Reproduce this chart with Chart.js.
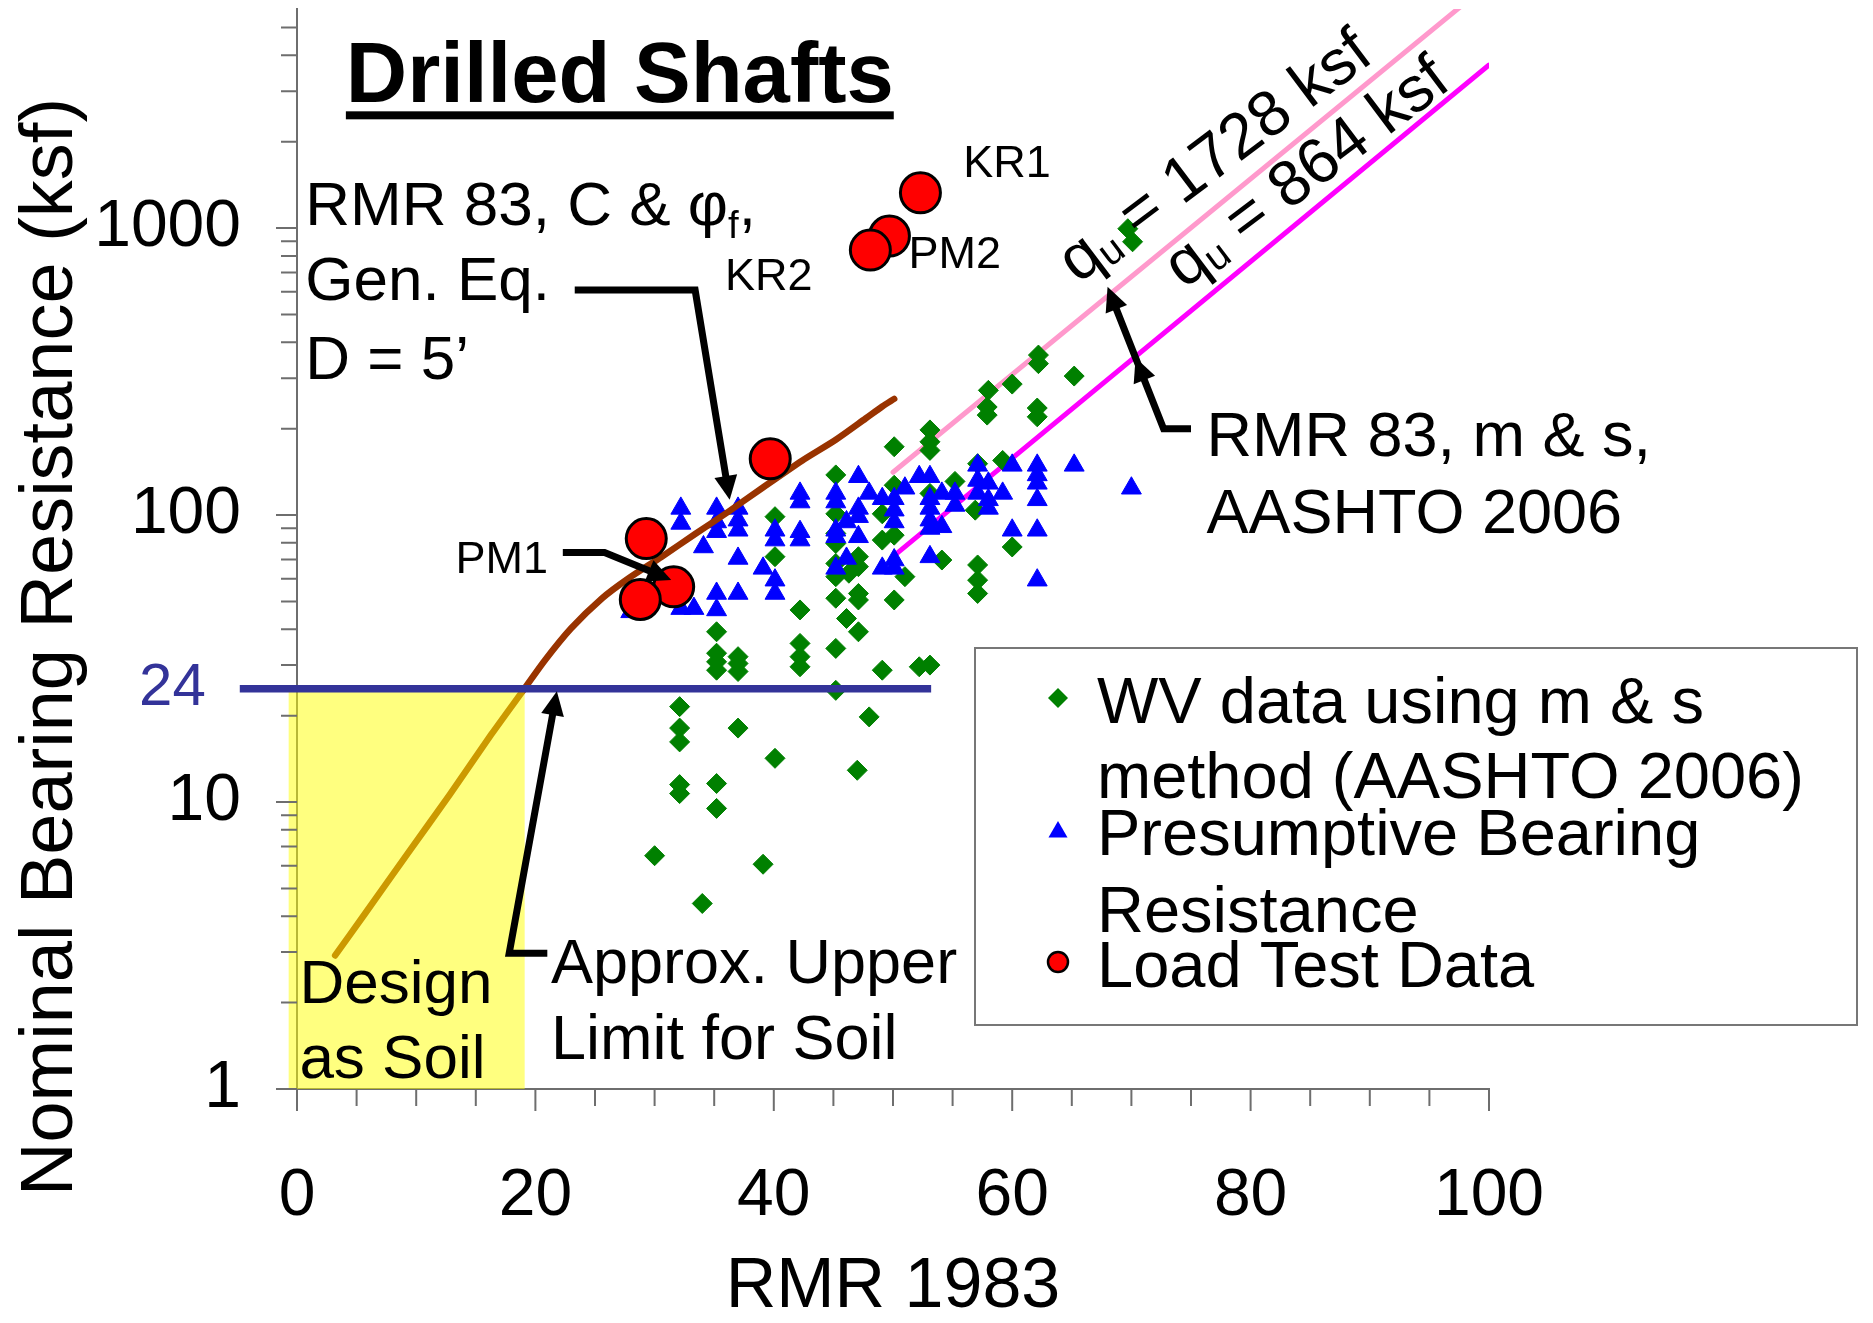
<!DOCTYPE html>
<html>
<head>
<meta charset="utf-8">
<title>Drilled Shafts</title>
<script src="https://cdn.jsdelivr.net/npm/chart.js@4.4.1/dist/chart.umd.min.js"></script>
<style>
  html, body { margin: 0; padding: 0; background: #fff; }
  #wrap { width: 1873px; height: 1323px; }
</style>
</head>
<body>
<div id="wrap"><canvas id="chart" width="1873" height="1323"></canvas></div>
<script>
// [RMR, nominal bearing resistance ksf]
const wvData = [
  [58.0, 272], [57.9, 238], [57.9, 223], [60.0, 286], [62.1, 236], [62.1, 220], [65.2, 305],
  [53.1, 198], [53.1, 180], [53.1, 168], [50.1, 173], [45.2, 138], [50.1, 127], [57.1, 151],
  [59.2, 155], [55.2, 131], [53.1, 119], [56.9, 104], [49.1, 101], [45.2, 101], [40.1, 98.7],
  [45.2, 86.3], [45.2, 79.6], [49.1, 81.8], [50.1, 85.1], [60.0, 77.4], [40.1, 71.6], [54.1, 69.7],
  [47.1, 71.6], [47.1, 66.1], [45.2, 67.8], [45.2, 61.0], [46.3, 62.7], [51.0, 61.0], [57.1, 67.0],
  [57.1, 59.3], [57.1, 53.3], [42.2, 46.7], [45.2, 51.3], [47.1, 53.3], [47.1, 50.6], [50.1, 50.6],
  [46.1, 43.6], [47.1, 39.2], [35.2, 39.2], [45.2, 34.3], [42.2, 35.7], [42.2, 32.1], [42.2, 29.6],
  [35.2, 33.0], [35.2, 30.8], [35.2, 28.8], [37.0, 32.1], [37.0, 30.4], [37.0, 28.5], [49.1, 28.8],
  [52.2, 29.6], [53.1, 30.0], [45.2, 24.5], [32.1, 21.5], [32.1, 18.1], [32.1, 16.2], [37.0, 18.1],
  [48.0, 19.8], [40.1, 14.2], [47.0, 12.9], [32.1, 11.5], [32.1, 10.7], [35.2, 11.6], [35.2, 9.5],
  [30.0, 6.5], [39.1, 6.07], [34.0, 4.43], [62.2, 361], [62.2, 337], [69.7, 995], [70.1, 896]
];

const presumptiveData = [
  [32.2, 105.5], [32.2, 93.5], [35.2, 105.5], [35.2, 94.6], [35.2, 87.5], [37.0, 105.5], [37.0, 96],
  [37.0, 88.5], [34.1, 77.4], [37.0, 70.6], [39.1, 65.2], [40.1, 59.3], [40.1, 53.3], [32.2, 47.2],
  [33.3, 47.2], [28.0, 46.0], [35.2, 53.3], [35.2, 46.7], [37.0, 53.3], [40.1, 88.5], [40.1, 81.8],
  [42.2, 119], [42.2, 111], [42.2, 87.5], [42.2, 81.8], [45.2, 119], [45.2, 111], [45.2, 88.5],
  [45.2, 84], [45.2, 65.2], [46.1, 94.6], [46.1, 70.6], [47.1, 136], [47.1, 105.5], [47.1, 98.7],
  [47.1, 84], [48.0, 119], [49.1, 114], [50.1, 114], [50.1, 104], [50.1, 94.6], [49.1, 65.2],
  [50.1, 69.7], [50.1, 65.2], [51.0, 124], [52.2, 136], [53.1, 136], [53.1, 114], [53.1, 105.5],
  [53.1, 96], [53.1, 89.8], [54.1, 119], [54.1, 91], [55.2, 119], [55.2, 108], [53.1, 71.5],
  [57.1, 149], [57.1, 132], [57.1, 119], [58.0, 129], [58.0, 113], [58.0, 105.5], [59.2, 119],
  [60.0, 149], [60.0, 88.5], [62.1, 149], [62.1, 138], [62.1, 129], [62.1, 113], [62.1, 88.5],
  [62.1, 59.3], [65.2, 149], [70.0, 124]
];

const loadTestData = [
  [52.3, 1327], [49.7, 938], [48.1, 838], [39.7, 157], [29.3, 82.8], [31.6, 56.2], [28.8, 50.8]
];

const genEqCurve = [
  [3.2, 2.92], [5.7, 4.08], [9.25, 6.58], [12.8, 10.6], [16.3, 17.2], [19.1, 24.9],
  [20.8, 31.2], [23.0, 40.3], [25.6, 51.3], [27.8, 60.1], [30.6, 71.6], [33.4, 85.9],
  [36.2, 102.8], [39.0, 124], [42.4, 155], [45.2, 183], [47.7, 217], [49.1, 239], [50.1, 254]
];

const qu1728Line = [[50.0, 141], [100, 7130]];
const qu864Line = [[50.3, 73.4], [100, 3700]];
const soilLimitLine = [[-4.8, 24.8], [53.2, 24.8]];
const soilZone = { rmrMin: -0.7, rmrMax: 19.1, resMin: 1, resMax: 24.2 };

const yTickValues = [1, 10, 100, 1000];

const FONT = '"Liberation Sans", Arial, Helvetica, sans-serif';
const axisColor = "#6e6e6e";

Chart.defaults.font.family = FONT;
Chart.defaults.color = "#000";

function pairs(list) {
  return list.map(function (p) { return { x: p[0], y: p[1] }; });
}

function setFont(ctx, size, bold) {
  ctx.font = (bold ? "bold " : "") + size + "px " + FONT;
}

function richWidth(ctx, parts, size) {
  let w = 0;
  parts.forEach(function (p) {
    setFont(ctx, p.sub ? size * 0.62 : size);
    w += ctx.measureText(p.t).width;
  });
  return w;
}

function drawRich(ctx, parts, x, y, size) {
  let cx = x;
  parts.forEach(function (p) {
    const s = p.sub ? size * 0.62 : size;
    setFont(ctx, s);
    ctx.fillText(p.t, cx, p.sub ? y + size * 0.2 : y);
    cx += ctx.measureText(p.t).width;
  });
}

function arrowHead(ctx, from, tip) {
  const len = 24, half = 11.5;
  const a = Math.atan2(tip[1] - from[1], tip[0] - from[0]);
  ctx.beginPath();
  ctx.moveTo(tip[0], tip[1]);
  ctx.lineTo(tip[0] - len * Math.cos(a) + half * Math.sin(a), tip[1] - len * Math.sin(a) - half * Math.cos(a));
  ctx.lineTo(tip[0] - len * Math.cos(a) - half * Math.sin(a), tip[1] - len * Math.sin(a) + half * Math.cos(a));
  ctx.closePath();
  ctx.fill();
}

function drawArrow(ctx, pts, midHead) {
  const n = pts.length;
  const a = Math.atan2(pts[n - 1][1] - pts[n - 2][1], pts[n - 1][0] - pts[n - 2][0]);
  ctx.beginPath();
  ctx.moveTo(pts[0][0], pts[0][1]);
  for (let i = 1; i < n - 1; i++) ctx.lineTo(pts[i][0], pts[i][1]);
  ctx.lineTo(pts[n - 1][0] - 18 * Math.cos(a), pts[n - 1][1] - 18 * Math.sin(a));
  ctx.stroke();
  arrowHead(ctx, pts[n - 2], pts[n - 1]);
  if (midHead) {
    const mid = [(pts[n - 2][0] + pts[n - 1][0]) / 2, (pts[n - 2][1] + pts[n - 1][1]) / 2];
    arrowHead(ctx, pts[n - 2], mid);
  }
}

const soilZonePlugin = {
  id: "soilZone",
  afterDatasetDraw(chart, args) {
    if (!chart.data.datasets[args.index].soilOverlay) return;
    const ctx = chart.ctx, xs = chart.scales.x, ys = chart.scales.y;
    const x0 = xs.getPixelForValue(soilZone.rmrMin), x1 = xs.getPixelForValue(soilZone.rmrMax);
    const y0 = ys.getPixelForValue(soilZone.resMax), y1 = ys.getPixelForValue(soilZone.resMin);
    ctx.save();
    ctx.fillStyle = "rgba(255, 255, 0, 0.5)";
    ctx.fillRect(x0, y0, x1 - x0, y1 - y0);
    ctx.restore();
  }
};

const axisTicksPlugin = {
  id: "axisTicks",
  afterDraw(chart) {
    const ctx = chart.ctx, area = chart.chartArea, xs = chart.scales.x, ys = chart.scales.y;
    ctx.save();
    ctx.strokeStyle = axisColor;
    ctx.lineWidth = 2;
    ctx.beginPath();
    for (let v = 0; v <= 100; v += 5) {
      const x = xs.getPixelForValue(v);
      ctx.moveTo(x, area.bottom);
      ctx.lineTo(x, area.bottom + (v % 20 === 0 ? 22 : 17));
    }
    for (let k = 0; k <= 3; k++) {
      for (let n = 1; n <= 9; n++) {
        const v = n * Math.pow(10, k);
        if (v > ys.max) break;
        const y = ys.getPixelForValue(v);
        ctx.moveTo(area.left, y);
        ctx.lineTo(area.left - (n === 1 ? 21 : 16), y);
      }
    }
    ctx.stroke();
    ctx.restore();
  }
};

const notesPlugin = {
  id: "notes",
  afterDraw(chart) {
    const ctx = chart.ctx, xs = chart.scales.x, ys = chart.scales.y;
    const P = function (x, y) { return [xs.getPixelForValue(x), ys.getPixelForValue(y)]; };
    ctx.save();
    ctx.fillStyle = "#000";
    ctx.strokeStyle = "#000";
    ctx.textBaseline = "alphabetic";
    ctx.textAlign = "left";

    // title
    let p = P(4.1, 2754);
    setFont(ctx, 85, true);
    ctx.fillText("Drilled Shafts", p[0], p[1]);
    ctx.fillRect(p[0], p[1] + 9.5, ctx.measureText("Drilled Shafts").width, 8);

    // text notes
    p = P(0.7, 1024);
    drawRich(ctx, [{ t: "RMR 83, C & \u03c6" }, { t: "f", sub: true }, { t: "," }], p[0], p[1], 62);
    const lines = [
      ["Gen. Eq.", 0.7, 561, 62], ["D = 5\u2019", 0.7, 299, 62],
      ["KR1", 55.9, 1506, 45], ["PM2", 51.3, 726, 45], ["KR2", 35.9, 607, 45], ["PM1", 13.3, 62.9, 45],
      ["Approx. Upper", 21.3, 2.35, 63], ["Limit for Soil", 21.3, 1.27, 63],
      ["Design", 0.2, 2.0, 62], ["as Soil", 0.2, 1.09, 62],
      ["RMR 83, m & s,", 76.3, 160, 63], ["AASHTO 2006", 76.3, 86.3, 63]
    ];
    lines.forEach(function (l) {
      const q = P(l[1], l[2]);
      setFont(ctx, l[3]);
      ctx.fillText(l[0], q[0], q[1]);
    });

    // soil limit value
    p = P(-7.65, 24.8);
    ctx.fillStyle = "#333399";
    ctx.textAlign = "right";
    ctx.textBaseline = "middle";
    setFont(ctx, 60);
    ctx.fillText("24", p[0], p[1]);
    ctx.fillStyle = "#000";
    ctx.textAlign = "left";

    // rotated q_u labels
    [[77.1, 1754, " = 1728 ksf"], [84.8, 1542, " = 864 ksf"]].forEach(function (r) {
      const c = P(r[0], r[1]);
      const parts = [{ t: "q" }, { t: "u", sub: true }, { t: r[2] }];
      ctx.save();
      ctx.translate(c[0], c[1]);
      ctx.rotate(-37 * Math.PI / 180);
      ctx.textBaseline = "middle";
      const w = richWidth(ctx, parts, 64);
      drawRich(ctx, parts, -w / 2, 0, 64);
      ctx.restore();
    });

    // arrows
    ctx.lineWidth = 7;
    ctx.lineJoin = "miter";
    drawArrow(ctx, [P(23.3, 608), P(33.4, 608), P(36.3, 113)]);
    drawArrow(ctx, [P(22.3, 74.1), P(25.8, 74.1), P(31.4, 59.4)]);
    drawArrow(ctx, [P(21.0, 2.97), P(17.8, 2.97), P(21.8, 24.3)]);
    drawArrow(ctx, [P(75.0, 200), P(72.7, 200), P(68.0, 624)], true);

    // axis title (y)
    ctx.save();
    ctx.translate(72, 647);
    ctx.rotate(-Math.PI / 2);
    ctx.textAlign = "center";
    ctx.textBaseline = "alphabetic";
    setFont(ctx, 74);
    ctx.fillText("Nominal Bearing Resistance (ksf)", 0, 0);
    ctx.restore();

    // legend
    ctx.fillStyle = "#fff";
    ctx.fillRect(975, 648, 882, 377);
    ctx.strokeStyle = "#777";
    ctx.lineWidth = 2;
    ctx.strokeRect(975, 648, 882, 377);
    const marks = [
      { style: "rectRot", r: 10, fill: "#008000", stroke: "#008000", bw: 0, y: 698 },
      { style: "triangle", r: 11, fill: "#0000ff", stroke: "#0000ff", bw: 0, y: 832 },
      { style: "circle", r: 10, fill: "#ff0000", stroke: "#000", bw: 2.5, y: 962 }
    ];
    marks.forEach(function (m) {
      ctx.fillStyle = m.fill;
      ctx.strokeStyle = m.stroke;
      ctx.lineWidth = m.bw;
      Chart.helpers.drawPoint(ctx, { pointStyle: m.style, radius: m.r, rotation: 0, borderWidth: m.bw }, 1058, m.y);
    });
    ctx.fillStyle = "#000";
    ctx.textBaseline = "alphabetic";
    setFont(ctx, 65);
    [["WV data using m & s", 723], ["method (AASHTO 2006)", 798], ["Presumptive Bearing", 855],
     ["Resistance", 932], ["Load Test Data", 987]].forEach(function (t) {
      ctx.fillText(t[0], 1097, t[1]);
    });
    ctx.restore();
  }
};

function lineSet(label, data, color, width, order) {
  return {
    label: label,
    data: pairs(data),
    showLine: true,
    borderColor: color,
    backgroundColor: color,
    borderWidth: width,
    borderCapStyle: "round",
    pointRadius: 0,
    order: order
  };
}

const genEq = lineSet("RMR 83, C & \u03c6f, Gen. Eq.", genEqCurve, "#993300", 6.5, 2);
genEq.tension = 0.25;
genEq.soilOverlay = true;
const limit = lineSet("Approx. Upper Limit for Soil", soilLimitLine, "#333399", 7.5, 1);
limit.clip = false;
limit.borderCapStyle = "butt";

new Chart(document.getElementById("chart"), {
  type: "scatter",
  data: {
    datasets: [
      {
        label: "Load Test Data",
        data: pairs(loadTestData),
        pointStyle: "circle",
        pointRadius: 20,
        backgroundColor: "#ff0000",
        borderColor: "#000",
        borderWidth: 3,
        order: 0
      },
      limit,
      genEq,
      {
        label: "Presumptive Bearing Resistance",
        data: pairs(presumptiveData),
        pointStyle: "triangle",
        pointRadius: 11.5,
        backgroundColor: "#0000ff",
        borderColor: "#0000ff",
        borderWidth: 1,
        order: 3
      },
      {
        label: "WV data using m & s method (AASHTO 2006)",
        data: pairs(wvData),
        pointStyle: "rectRot",
        pointRadius: 10,
        backgroundColor: "#008000",
        borderColor: "#008000",
        borderWidth: 1,
        order: 4
      },
      lineSet("qu = 864 ksf", qu864Line, "#ff00ff", 5, 5),
      lineSet("qu = 1728 ksf", qu1728Line, "#ff99cc", 5, 6)
    ]
  },
  options: {
    responsive: false,
    animation: false,
    events: [],
    layout: { autoPadding: false, padding: { top: 9, right: 384, bottom: 0, left: 0 } },
    plugins: {
      legend: { display: false },
      tooltip: { enabled: false },
      title: { display: false }
    },
    scales: {
      x: {
        type: "linear",
        position: "bottom",
        min: 0,
        max: 100,
        grid: { display: false, drawTicks: false },
        border: { display: true, color: axisColor, width: 2 },
        ticks: { stepSize: 20, autoSkip: false, maxRotation: 0, padding: 68, color: "#000", font: { size: 66 } },
        title: { display: true, text: "RMR 1983", color: "#000", font: { size: 70, lineHeight: 1 }, padding: 0 },
        afterFit: function (s) {
          s.height = 234;
          s.paddingLeft = 0;
          s.paddingRight = 0;
        }
      },
      y: {
        type: "logarithmic",
        min: 1,
        max: 5800,
        grid: { display: false, drawTicks: false },
        border: { display: true, color: axisColor, width: 2 },
        ticks: {
          padding: 56,
          color: "#000",
          font: { size: 66 },
          callback: function (v) { return String(v); }
        },
        afterBuildTicks: function (s) {
          s.ticks = yTickValues.map(function (v) { return { value: v }; });
        },
        afterFit: function (s) {
          s.width = 297;
          s.paddingTop = 0;
          s.paddingBottom = 0;
        }
      }
    }
  },
  plugins: [soilZonePlugin, axisTicksPlugin, notesPlugin]
});
</script>
</body>
</html>
